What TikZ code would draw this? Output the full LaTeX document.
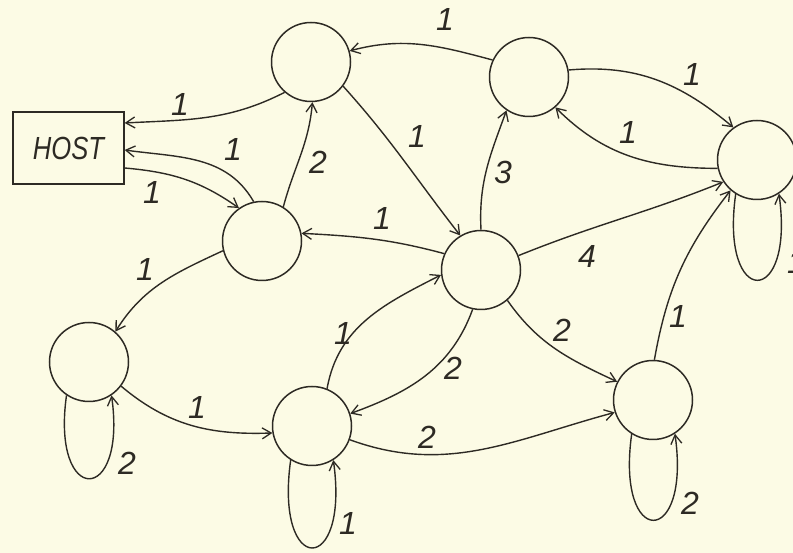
\documentclass[tikz,border=0pt]{standalone}
\usepackage{fontspec}
\usepackage{graphicx}
\setmainfont{Liberation Sans}
\usetikzlibrary{arrows.meta}
\definecolor{bg}{RGB}{252,251,229}
\definecolor{ink}{RGB}{45,42,36}
\begin{document}
\begin{tikzpicture}[x=1pt,y=1pt,
  st/.style={circle,draw=ink,line width=1.5pt,minimum size=79pt,inner sep=0pt},
  ed/.style={draw=ink,line width=1.4pt,-{Straight Barb[length=9pt,width=11pt,line width=1.3pt]}},
  lb/.style={font=\fontsize{32}{36}\selectfont\itshape,text=ink,inner sep=0pt}]
\fill[bg] (0,0) rectangle (793,553);
\useasboundingbox (0,0) rectangle (793,553);
% states
\node[st] (A) at (311,491) {};
\node[st] (B) at (529,476) {};
\node[st] (C) at (757,393) {};
\node[st] (D) at (262,312) {};
\node[st] (E) at (481,283) {};
\node[st] (F) at (89,191) {};
\node[st] (G) at (312,127) {};
\node[st] (H) at (653,153) {};
\node[draw=ink,line width=1.3pt,minimum width=111pt,minimum height=72pt,inner sep=0pt,text=ink]
  (HOST) at (68.5,405) {\fontsize{32}{36}\selectfont\itshape\scalebox{0.8}[1]{HOST}};
% connectors
\draw[ed] (A.229) to[out=207,in=3] ([yshift=25pt]HOST.east);
\draw[ed] (D.102) to[out=120,in=-8] ([yshift=-2pt]HOST.east);
\draw[ed] ([yshift=-20pt]HOST.east) to[out=-5,in=145] (D.125);
\draw[ed] (D.58) to[out=75,in=-95] (A.272);
\draw[ed] (B.155) to[out=165,in=15] (A.16);
\draw[ed] (A.-37) to[out=-48,in=128] (E.121);
\draw[ed] (E.90) to[out=93,in=-110] (B.-124);
\draw[ed] (B.10) to[out=5,in=140] (C.126);
\draw[ed] (C.192) to[out=180,in=-45] (B.-49);
\draw[ed] (E.21) to[out=22,in=202] (C.213);
\draw[ed] (H.88) to[out=80,in=232] (C.229);
\draw[ed] (E.156) to[out=165,in=-3] (D.11);
\draw[ed] (D.194) to[out=205,in=58] (F.49);
\draw[ed] (F.-37) to[out=-40,in=182] (G.190);
\draw[ed] (G.68) to[out=80,in=207] (E.187);
\draw[ed] (E.-102) to[out=-110,in=20] (G.18);
\draw[ed] (E.-49) to[out=-55,in=155] (H.153);
\draw[ed] (G.-20) to[out=-20,in=195] (H.198);
% self loops
\draw[ed] (F.-124) to[out=-98,in=-82,distance=112pt] (F.-56);
\draw[ed] (G.-122) to[out=-98,in=-82,distance=118pt] (G.-58);
\draw[ed] (H.-122) to[out=-98,in=-82,distance=116pt] (H.-57);
\draw[ed] (C.-122) to[out=-98,in=-82,distance=116pt] (C.-57);
% labels
\node[lb] (l1) at (180,448) {1};
\node[lb] (l2) at (233,403) {1};
\node[lb] (l3) at (152,360) {1};
\node[lb] (l4) at (318,391) {2};
\node[lb] (l5) at (445,533) {1};
\node[lb] (l6) at (417,416) {1};
\node[lb] (l7) at (503,381) {3};
\node[lb] (l8) at (692,478) {1};
\node[lb] (l9) at (628,420) {1};
\node[lb] (l10) at (587,296) {4};
\node[lb] (l11) at (678,236) {1};
\node[lb] (l12) at (382,334) {1};
\node[lb] (l13) at (145,283) {1};
\node[lb] (l14) at (197,146) {1};
\node[lb] (l15) at (343,220) {1};
\node[lb] (l16) at (453,185) {2};
\node[lb] (l17) at (562,223) {2};
\node[lb] (l18) at (427,116) {2};
\node[lb] (l19) at (127,90) {2};
\node[lb] (l20) at (348,30) {1};
\node[lb] (l21) at (690,50) {2};
\node[lb] (l22) at (796,290) {1};
\end{tikzpicture}
\end{document}
